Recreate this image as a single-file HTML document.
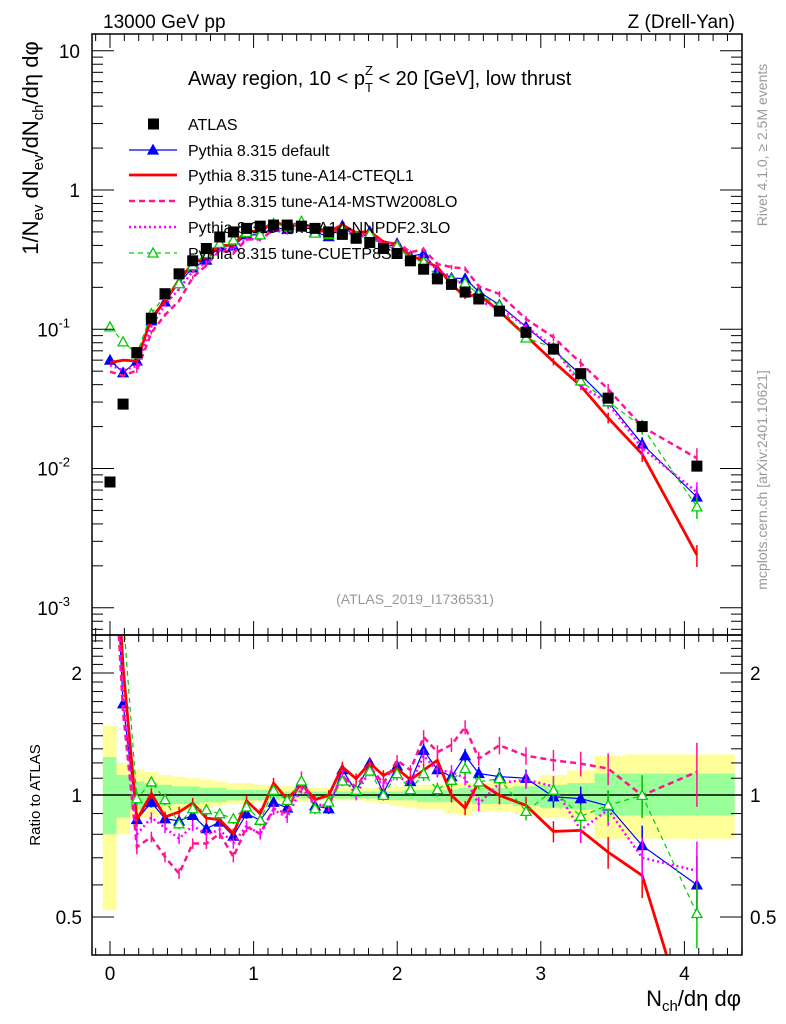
<!DOCTYPE html>
<html><head><meta charset="utf-8"><style>
html,body{margin:0;padding:0;background:#fff;width:786px;height:1024px;overflow:hidden;}
svg{display:block;font-family:"Liberation Sans",sans-serif;overflow:hidden;}
</style></head><body>
<svg id="chart" width="786" height="1024" viewBox="0 0 786 1024">
<defs>
<clipPath id="cm"><rect x="92" y="34" width="650" height="601"/></clipPath>
<clipPath id="cr"><rect x="92" y="635" width="650" height="320"/></clipPath>
</defs>
<g id="bands" clip-path="url(#cr)"></g>
<g id="mainMarks" clip-path="url(#cm)"></g>
<g id="ratioMarks" clip-path="url(#cr)"></g>
<g id="axes"></g>
<text x="103" y="28" font-size="19">13000 GeV pp</text>
<text x="735" y="28" font-size="19" text-anchor="end">Z (Drell-Yan)</text>
<text x="188" y="85" font-size="20">Away region, 10 &lt; p<tspan font-size="13" dy="7">T</tspan><tspan font-size="13" dx="-8" dy="-17">Z</tspan><tspan dy="10"> &lt; 20 [GeV], low thrust</tspan></text>
<text x="415" y="604" font-size="14" fill="#999" text-anchor="middle">(ATLAS_2019_I1736531)</text>
<text transform="translate(38,148) rotate(-90)" font-size="22" text-anchor="middle">1/N<tspan font-size="15" dy="5">ev</tspan><tspan dy="-5"> dN</tspan><tspan font-size="15" dy="5">ev</tspan><tspan dy="-5">/dN</tspan><tspan font-size="15" dy="5">ch</tspan><tspan dy="-5">/dη dφ</tspan></text>
<text transform="translate(40,795) rotate(-90)" font-size="15" text-anchor="middle">Ratio to ATLAS</text>
<text transform="translate(767,145) rotate(-90)" font-size="14" fill="#999" text-anchor="middle">Rivet 4.1.0, ≥ 2.5M events</text>
<text transform="translate(767,480) rotate(-90)" font-size="14" fill="#999" text-anchor="middle">mcplots.cern.ch [arXiv:2401.10621]</text>
<text x="741" y="1006" font-size="22" text-anchor="end">N<tspan font-size="15" dy="5">ch</tspan><tspan dy="-5">/dη dφ</tspan></text>
<g id="legend"></g>
</svg>
<script>
const xs=[0,0.091,0.187,0.288,0.383,0.481,0.576,0.671,0.764,0.859,0.951,1.046,1.139,1.234,1.333,1.428,1.523,1.618,1.714,1.809,1.904,1.999,2.092,2.184,2.280,2.378,2.473,2.568,2.712,2.897,3.088,3.278,3.469,3.706,4.087];
const atlas=[0.008,0.029,0.068,0.12,0.18,0.25,0.31,0.38,0.46,0.50,0.53,0.55,0.56,0.56,0.55,0.53,0.50,0.48,0.45,0.42,0.38,0.35,0.31,0.27,0.23,0.21,0.185,0.165,0.135,0.095,0.072,0.048,0.032,0.020,0.0104];
const ratioDefault=[7.5,1.68,0.87,0.96,0.874,0.863,0.891,0.826,0.858,0.792,0.90,0.866,0.96,0.929,1.07,0.94,0.925,1.155,1.02,1.20,1.01,1.18,1.08,1.29,1.155,1.11,1.25,1.13,1.11,1.10,0.99,0.98,0.94,0.75,0.60];
const ratioCTEQ=[7.2,2.07,0.869,1.008,0.883,0.908,0.955,0.877,0.869,0.803,0.967,0.899,1.070,0.976,1.066,0.974,0.998,1.173,1.097,1.199,1.118,1.162,1.091,1.151,1.218,0.998,0.929,1.077,0.998,0.943,0.813,0.818,0.723,0.633,0.23];
const ratioMSTW=[6.2,1.6,0.744,0.788,0.703,0.640,0.759,0.759,0.803,0.703,0.834,0.803,0.925,0.899,1.11,0.925,0.952,1.11,1.047,1.173,1.067,1.218,1.151,1.39,1.276,1.33,1.47,1.23,1.326,1.25,1.218,1.195,1.162,0.998,1.14];
const ratioNNPDF=[6.9,1.75,0.80,0.88,0.83,0.78,0.84,0.80,0.82,0.76,0.84,0.80,0.92,0.88,1.04,0.95,0.94,1.12,1.00,1.15,1.05,1.12,1.06,1.25,1.15,1.14,1.10,0.95,1.07,1.09,1.05,0.82,0.92,0.70,0.65];
const ratioCUETP=[13,2.8,0.979,1.077,0.974,0.849,0.925,0.920,0.899,0.874,0.934,0.866,1.027,0.970,1.083,0.925,0.961,1.083,1.027,1.146,0.998,1.129,1.031,1.129,1.031,1.087,1.162,1.077,1.097,0.911,1.027,0.886,0.943,0.998,0.51];
const mcRelErr=[0.05,0.05,0.04,0.03,0.03,0.03,0.03,0.03,0.03,0.03,0.03,0.03,0.03,0.03,0.03,0.03,0.03,0.03,0.03,0.03,0.03,0.03,0.03,0.04,0.04,0.04,0.04,0.04,0.05,0.05,0.06,0.07,0.09,0.12,0.18];
const yellowHi=[1.48,1.20,1.16,1.14,1.12,1.11,1.10,1.09,1.08,1.07,1.07,1.06,1.06,1.05,1.05,1.04,1.04,1.04,1.04,1.04,1.04,1.05,1.05,1.06,1.06,1.07,1.07,1.07,1.08,1.09,1.12,1.15,1.25,1.26,1.26];
const yellowLo=[0.52,0.80,0.88,0.88,0.90,0.91,0.92,0.93,0.94,0.95,0.95,0.96,0.96,0.96,0.96,0.97,0.97,0.97,0.97,0.96,0.95,0.94,0.93,0.92,0.92,0.90,0.89,0.91,0.91,0.90,0.88,0.87,0.78,0.78,0.78];
const greenHi=[1.24,1.12,1.08,1.07,1.06,1.05,1.05,1.04,1.04,1.03,1.03,1.03,1.03,1.02,1.02,1.02,1.02,1.02,1.02,1.02,1.02,1.02,1.03,1.03,1.03,1.03,1.04,1.04,1.04,1.05,1.06,1.07,1.13,1.13,1.13];
const greenLo=[0.80,0.88,0.92,0.93,0.94,0.95,0.95,0.96,0.96,0.97,0.97,0.97,0.97,0.98,0.98,0.98,0.98,0.98,0.98,0.98,0.98,0.97,0.97,0.96,0.96,0.96,0.96,0.95,0.95,0.94,0.93,0.92,0.89,0.89,0.89];
const mainTickLabels=["10","1","10","10","10"];
const ratioTickLabels=["2","1","0.5"];
const xTickLabels=["0","1","2","3","4"];

const NS="http://www.w3.org/2000/svg";
function X(v){return 110+v*143.6;}
function YM(v){return 190-Math.log10(v)*139.25;}
function YR(v){return 795-Math.log2(v)*122;}
function mk(tag,attrs,parent){const e=document.createElementNS(NS,tag);for(const k in attrs)e.setAttribute(k,attrs[k]);parent.appendChild(e);return e;}
const gB=document.getElementById('bands'),gM=document.getElementById('mainMarks'),gR=document.getElementById('ratioMarks'),gA=document.getElementById('axes'),gL=document.getElementById('legend');

// clip polyline to vertical range [ymin,ymax], returns array of point-lists
function clipY(pts,ymin,ymax){
  const out=[];let cur=[];
  const inside=p=>p[1]>=ymin&&p[1]<=ymax;
  for(let i=0;i<pts.length;i++){
    const p=pts[i];
    if(i>0){
      const q=pts[i-1];
      [ymin,ymax].forEach(b=>{
        if((q[1]-b)*(p[1]-b)<0){
          const t=(b-q[1])/(p[1]-q[1]);
          const c=[q[0]+t*(p[0]-q[0]),b];
          if(inside(q)){cur.push(c);out.push(cur);cur=[];}
          else cur.push(c);
        }
      });
    }
    if(inside(p)) cur.push(p);
  }
  if(cur.length) out.push(cur);
  return out.filter(s=>s.length>1);
}

for(let i=0;i<xs.length;i++){
  const l=i===0?-0.05:(xs[i-1]+xs[i])/2, r=i===xs.length-1?4.35:(xs[i]+xs[i+1])/2;
  const top=v=>Math.min(Math.max(YR(v),635),955);
  const y=mk('rect',{x:X(l),y:top(yellowHi[i]),width:X(r)-X(l),height:top(yellowLo[i])-top(yellowHi[i]),fill:'#ffff99'},gB);
  
  
  const g=mk('rect',{x:X(l),y:top(greenHi[i]),width:X(r)-X(l),height:top(greenLo[i])-top(greenHi[i]),fill:'#99ff99'},gB);
  
  
}
const one=mk('line',{x1:92,x2:742,y1:YR(1),y2:YR(1),stroke:'#000','stroke-width':1.5},gB);



const series=[
 {name:'default',r:ratioDefault,color:'#0000ff',w:1.2,dash:'',marker:'tri-filled'},
 {name:'cteql1',r:ratioCTEQ,color:'#ff0000',w:2.8,dash:'',marker:''},
 {name:'mstw2008lo',r:ratioMSTW,color:'#ff1493',w:2.5,dash:'6,4',marker:''},
 {name:'nnpdf23lo',r:ratioNNPDF,color:'#ff00ff',w:2.5,dash:'2,3',marker:''},
 {name:'cuetp8s1',r:ratioCUETP,color:'#00cc00',w:1.2,dash:'5,4',marker:'tri-open'}
];
function tri(parent,cx,cy,s,filled){
  return mk('polygon',{points:`${cx},${cy-5} ${cx-5},${cy+4} ${cx+5},${cy+4}`,fill:filled?s.color:'#fff',stroke:s.color,'stroke-width':1.3},parent);
}
function drawSeries(parent,yf,valFn,s,panel,ymin,ymax){
  const cl=y=>Math.min(Math.max(y,ymin),ymax);
  xs.forEach((x,i)=>{
    if(i<2) return;
    const v=valFn(i),e=v*mcRelErr[i];
    const y1=cl(yf(v+e)),y2=cl(yf(Math.max(v-e,1e-6)));
    if(y2-y1<0.5) return;
    const b=mk('line',{x1:X(x),x2:X(x),y1:y1,y2:y2,stroke:s.color,'stroke-width':1.5},parent);
    
    
  });
  const pts=xs.map((x,i)=>[X(x),yf(valFn(i))]);
  clipY(pts,ymin,ymax).forEach(seg=>{
    const pl=mk('polyline',{points:seg.map(p=>p[0].toFixed(1)+','+p[1].toFixed(1)).join(' '),fill:'none',stroke:s.color,'stroke-width':s.w,'stroke-dasharray':s.dash},parent);
    
    
  });
  if(s.marker){
    xs.forEach((x,i)=>{
      const y=yf(valFn(i)); if(y<ymin||y>ymax) return;
      const t=tri(parent,X(x),y,s,s.marker==='tri-filled');
      
      
    });
  }
}
series.forEach(s=>{
  drawSeries(gM,YM,i=>atlas[i]*s.r[i],s,'main',34,635);
  drawSeries(gR,YR,i=>s.r[i],s,'ratio',635,955);
});
xs.forEach((x,i)=>{
  const q=mk('rect',{x:X(x)-5.5,y:YM(atlas[i])-5.5,width:11,height:11,fill:'#000'},gM);
  
  
});

function line(x1,y1,x2,y2,w){return mk('line',{x1,y1,x2,y2,stroke:'#000','stroke-width':w||1},gA);}
const f1=mk('rect',{x:92,y:34,width:650,height:601,fill:'none',stroke:'#000','stroke-width':1.5},gA);


const f2=mk('rect',{x:92,y:635,width:650,height:320,fill:'none',stroke:'#000','stroke-width':1.5},gA);


for(let k=-1;k<=44;k++){
  const v=k/10; const px=X(v); if(px<92||px>742) continue;
  const major=k%10===0; const len=major?14:7;
  [34,635].forEach(y0=>line(px,y0,px,y0+len));
  [635,955].forEach(y0=>line(px,y0,px,y0-len));
}
xTickLabels.forEach((t,i)=>{
  const e=mk('text',{x:X(i),y:980,'font-size':19,'text-anchor':'middle'},gA);e.textContent=t;
  
  
});
for(let d=-4;d<=1;d++){
  for(let m=1;m<=9;m++){
    const v=m*Math.pow(10,d); const py=YM(v); if(py<34||py>635) continue;
    const len=m===1?22:11;
    line(92,py,92+len,py); line(742,py,742-len,py);
  }
}
[1,0,-1,-2,-3].forEach((d,i)=>{
  const py=YM(Math.pow(10,d));
  const e=mk('text',{x:d<0?70:80,y:py+7,'font-size':19,'text-anchor':'end'},gA);
  e.textContent=mainTickLabels[i];
  if(d<0){const s=mk('tspan',{'font-size':13,dy:-9},e);s.textContent=String(d);}
  
  
});
[0.4,0.5,0.6,0.7,0.8,0.9,1,1.1,1.2,1.3,1.4,1.5,1.6,1.7,1.8,1.9,2,2.1,2.2,2.3,2.4].forEach(v=>{
  const py=YR(v); if(py<635||py>955) return;
  const major=(v===0.5||v===1||v===2); const len=major?22:11;
  line(92,py,92+len,py); line(742,py,742-len,py);
});
[2,1,0.5].forEach((v,i)=>{
  [[82,'end'],[750,'start']].forEach(([x,a])=>{
    const e=mk('text',{x:x,y:YR(v)+7,'font-size':19,'text-anchor':a},gA);e.textContent=ratioTickLabels[i];
    
    
  });
});
const legNames=['ATLAS','Pythia 8.315 default','Pythia 8.315 tune-A14-CTEQL1','Pythia 8.315 tune-A14-MSTW2008LO','Pythia 8.315 tune-A14-NNPDF2.3LO','Pythia 8.315 tune-CUETP8S1'];
const legY=[124,150,175,201,227,253];
legNames.forEach((n,i)=>{
  const g=mk('g',{},gL);
  
  
  if(i===0){mk('rect',{x:148,y:legY[i]-5.5,width:11,height:11,fill:'#000'},g);}
  else{
    const s=series[i-1];
    mk('line',{x1:129,x2:177,y1:legY[i],y2:legY[i],stroke:s.color,'stroke-width':s.w,'stroke-dasharray':s.dash},g);
    if(s.marker) tri(g,153,legY[i],s,s.marker==='tri-filled');
  }
  const t=mk('text',{x:188,y:legY[i]+6,'font-size':16},g);t.textContent=n;
});
</script>
</body></html>
